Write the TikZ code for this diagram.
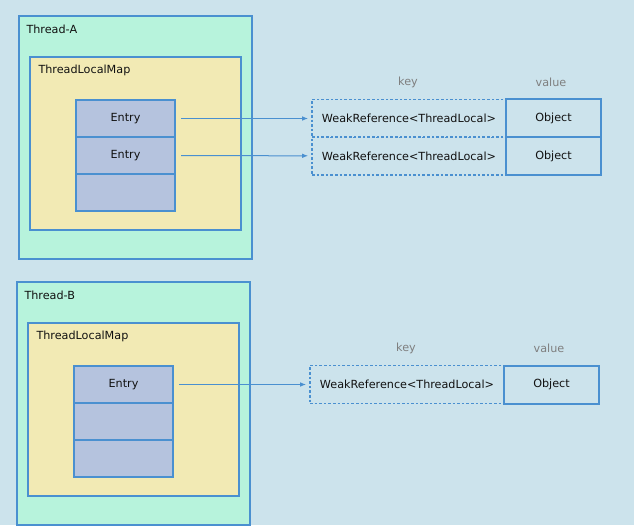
\documentclass[tikz,border=0pt]{standalone}
\usepackage{fontspec}
\setmainfont{DejaVu Sans}
\usepackage{tikz}
\usetikzlibrary{arrows.meta,positioning}
\definecolor{tbg}{HTML}{CCE3EC}
\definecolor{tthread}{HTML}{B7F3DC}
\definecolor{tmap}{HTML}{F2EAB4}
\definecolor{tentry}{HTML}{B5C3DE}
\definecolor{tline}{HTML}{4A90D0}
\definecolor{tink}{HTML}{111111}
\definecolor{tgrey}{HTML}{7F7F7F}

\begin{document}
\begin{tikzpicture}[x=1pt,y=-1pt,
  every node/.style={font=\fontsize{11.2}{13}\selectfont,text=tink},
  box/.style={draw=tline,line width=2pt},
  entrybox/.style={box,fill=tentry,minimum width=99pt,minimum height=37pt,inner sep=0pt},
  keybox/.style={draw=tline,line width=1.6pt,dash pattern=on 2.6pt off 2pt,minimum width=194pt,minimum height=38pt,inner sep=0pt},
  valbox/.style={box,minimum width=95pt,minimum height=38pt,inner sep=0pt},
  ref/.style={-{Latex[length=6pt,width=4.5pt]},tline,line width=1pt,shorten <=5pt,shorten >=3pt}]
  \fill[tbg] (0,0) rectangle (634,525);

  % the two threads
  \foreach \t/\dx/\dy/\n in {A/0/0/2,B/-2/266/1} {
    \begin{scope}[shift={(\dx,\dy)}]
      \draw[box,fill=tthread] (19,16) rectangle (252,259);
      \node[anchor=west] (th\t) at (23,29.5) {Thread-\t};
      \draw[box,fill=tmap] (30,57) rectangle (241,230);
      \node[anchor=west] (map\t) at (35,70.5) {ThreadLocalMap};

      % entry table
      \foreach \r in {1,2,3}
        \node[entrybox] (e\t\r) at (125.5,81.5+37*\r) {};

      \node[text=tgrey] (key\t) at (408,82) {key};
      \node[text=tgrey] (val\t) at (551,82) {value};

      \foreach \r in {1,...,\n} {
        \node (e\t\r lbl) at (e\t\r) {Entry};
        \node[keybox] (k\t\r) at (409,81+37.5*\r) {WeakReference<ThreadLocal>};
        \node[valbox] (v\t\r) at (553.5,81+37.5*\r) {Object};
        \draw[ref] (e\t\r) -- (k\t\r);
      }
    \end{scope}
  }
\end{tikzpicture}
\end{document}
